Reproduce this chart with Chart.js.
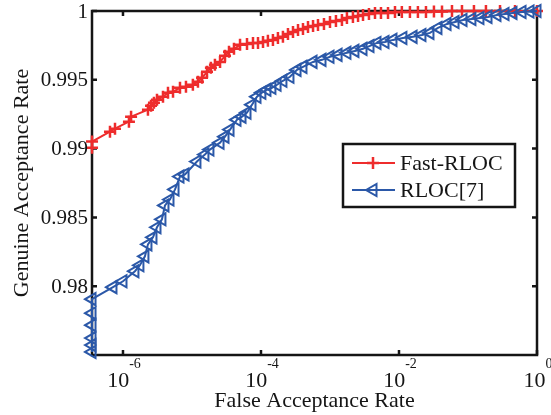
<!DOCTYPE html>
<html>
<head>
    <title>Fast-RLOC vs RLOC ROC</title>
    <script src="https://cdn.jsdelivr.net/npm/chart.js@4.4.1/dist/chart.umd.min.js"></script>
    <style>
        body {
            margin: 0;
            background-color: white;
        }
        canvas {
            display: block;
        }
    </style>
</head>
<body>
    <canvas id="rocChart" width="551" height="415"></canvas>

    <script>
        // values
        const seriesNames = ['Fast-RLOC', 'RLOC[7]'];

        const redFar = [3.56e-7, 3.56e-7, 6.48e-7, 7.66e-7, 1.22e-6, 1.31e-6, 2.30e-6, 2.55e-6, 2.81e-6, 3.11e-6,
            3.80e-6, 4.49e-6, 5.31e-6, 6.70e-6, 8.18e-6, 1.03e-5, 1.22e-5, 1.40e-5, 1.65e-5, 1.88e-5,
            2.15e-5, 2.55e-5, 3.01e-5, 3.44e-5, 4.06e-5, 4.97e-5, 6.27e-5, 7.66e-5, 9.05e-5, 1.07e-4,
            1.26e-4, 1.49e-4, 1.76e-4, 2.08e-4, 2.46e-4, 2.91e-4, 3.44e-4, 4.06e-4, 4.80e-4, 5.68e-4,
            6.70e-4, 8.18e-4, 1.0e-3, 1.22e-3, 1.49e-3, 1.76e-3, 2.15e-3, 2.55e-3, 3.01e-3, 3.67e-3,
            4.49e-3, 5.48e-3, 6.93e-3, 8.75e-3, 1.10e-2, 1.44e-2, 1.88e-2, 2.46e-2, 3.21e-2, 4.20e-2,
            5.86e-2, 8.18e-2, 0.122, 0.182, 0.291, 0.480, 1];
        const redGar = [0.99007, 0.99051, 0.99123, 0.99145, 0.99196, 0.99232, 0.99283, 0.99312, 0.99333, 0.99355,
            0.99377, 0.99406, 0.99413, 0.99442, 0.99449, 0.99464, 0.99486, 0.99514, 0.99558, 0.99587,
            0.99609, 0.99630, 0.99674, 0.99703, 0.99725, 0.99754, 0.99761, 0.99768, 0.99768, 0.99775,
            0.99783, 0.99790, 0.99804, 0.99812, 0.99833, 0.99848, 0.99862, 0.99870, 0.99884, 0.99891,
            0.99899, 0.99906, 0.99920, 0.99928, 0.99935, 0.99949, 0.99957, 0.99964, 0.99971, 0.99978,
            0.99986, 0.99986, 0.99986, 0.99993, 0.99993, 0.99993, 0.99993, 0.99993, 0.99996, 0.99996,
            1, 1, 1, 1, 1, 1, 1];

        const blueFar = [3.56e-7, 3.56e-7, 3.56e-7, 3.56e-7, 3.56e-7, 3.56e-7, 7.16e-7, 1.0e-6, 1.49e-6, 1.76e-6,
            2.08e-6, 2.30e-6, 2.72e-6, 3.11e-6, 3.67e-6, 4.06e-6, 4.80e-6, 5.68e-6, 6.70e-6, 7.93e-6,
            1.18e-5, 1.54e-5, 1.82e-5, 2.55e-5, 3.01e-5, 3.56e-5, 4.49e-5, 5.31e-5, 6.27e-5, 7.41e-5,
            8.75e-5, 1.03e-4, 1.22e-4, 1.44e-4, 1.71e-4, 2.08e-4, 2.63e-4, 3.33e-4, 4.06e-4, 5.68e-4,
            7.66e-4, 1.0e-3, 1.31e-3, 1.76e-3, 2.30e-3, 3.01e-3, 3.80e-3, 4.80e-3, 6.27e-3, 8.18e-3,
            1.14e-2, 1.60e-2, 2.15e-2, 2.81e-2, 3.67e-2, 4.97e-2, 6.49e-2, 8.47e-2, 0.114, 0.149,
            0.195, 0.263, 0.344, 0.449, 0.607, 0.792, 1];
        const blueGar = [0.97522, 0.97572, 0.97623, 0.97717, 0.97804, 0.97906, 0.97993, 0.98036, 0.98109, 0.98152,
            0.98217, 0.98304, 0.98355, 0.98428, 0.98486, 0.98587, 0.98630, 0.98703, 0.98797, 0.98812,
            0.98906, 0.98957, 0.98993, 0.99043, 0.99087, 0.99138, 0.99210, 0.99232, 0.99261, 0.99319,
            0.99377, 0.99406, 0.99428, 0.99442, 0.99464, 0.99493, 0.99522, 0.99572, 0.99594, 0.99630,
            0.99645, 0.99667, 0.99681, 0.99696, 0.99710, 0.99725, 0.99746, 0.99768, 0.99775, 0.99790,
            0.99804, 0.99812, 0.99826, 0.99841, 0.99877, 0.99906, 0.99920, 0.99935, 0.99942, 0.99949,
            0.99957, 0.99971, 0.99978, 0.99986, 0.99993, 0.99996, 1];

        const xTickVals = [1e-6, 1e-4, 1e-2, 1];
        const xTickExps = ['-6', '-4', '-2', '0'];
        const yTickVals = [0.98, 0.985, 0.99, 0.995, 1];
        const yTickText = ['0.98', '0.985', '0.99', '0.995', '1'];

        const RED = '#ee2c2c';
        const BLUE = '#2b58a8';
        const INK = '#151515';
        const FONT = '"Liberation Serif", "Times New Roman", serif';

        function toPoints(xs, ys) {
            return xs.map((x, i) => ({ x: x, y: ys[i] }));
        }

        const styles = [
            { color: RED, pointStyle: 'cross', rotation: 0, radius: 6, borderWidth: 2.5 },
            { color: BLUE, pointStyle: 'triangle', rotation: -90, radius: 7, borderWidth: 2 }
        ];

        // MATLAB-like box, inward ticks, labels and legend
        const matlabAxes = {
            id: 'matlabAxes',
            beforeDatasetsDraw(chart) {
                const ctx = chart.ctx;
                const a = chart.chartArea;
                const xs = chart.scales.x, ys = chart.scales.y;
                ctx.save();
                ctx.strokeStyle = INK;
                ctx.lineWidth = 2.5;
                ctx.strokeRect(a.left, a.top, a.right - a.left, a.bottom - a.top);
                ctx.beginPath();
                xTickVals.forEach(v => {
                    const px = xs.getPixelForValue(v);
                    ctx.moveTo(px, a.bottom); ctx.lineTo(px, a.bottom - 5);
                    ctx.moveTo(px, a.top); ctx.lineTo(px, a.top + 5);
                });
                yTickVals.forEach(v => {
                    const py = ys.getPixelForValue(v);
                    ctx.moveTo(a.left, py); ctx.lineTo(a.left + 5, py);
                    ctx.moveTo(a.right, py); ctx.lineTo(a.right - 5, py);
                });
                ctx.stroke();
                ctx.restore();
            },
            afterDraw(chart) {
                const ctx = chart.ctx;
                const a = chart.chartArea;
                const xs = chart.scales.x, ys = chart.scales.y;
                ctx.save();
                ctx.fillStyle = INK;

                // y tick labels
                ctx.font = '21px ' + FONT;
                ctx.textAlign = 'right';
                ctx.textBaseline = 'middle';
                yTickVals.forEach((v, i) => {
                    ctx.fillText(yTickText[i], a.left - 4, ys.getPixelForValue(v) + 1);
                });

                // x tick labels: 10 with superscript exponent
                ctx.textAlign = 'left';
                ctx.textBaseline = 'alphabetic';
                xTickVals.forEach((v, i) => {
                    const px = xs.getPixelForValue(v);
                    ctx.font = '22px ' + FONT;
                    const wBase = ctx.measureText('10').width;
                    ctx.font = '14px ' + FONT;
                    const wExp = ctx.measureText(xTickExps[i]).width;
                    const left = px - (wBase + wExp) / 2 + 1;
                    ctx.font = '22px ' + FONT;
                    ctx.fillText('10', left, a.bottom + 32);
                    ctx.font = '14px ' + FONT;
                    ctx.fillText(xTickExps[i], left + wBase, a.bottom + 13);
                });

                // axis titles
                ctx.font = '22px ' + FONT;
                ctx.textAlign = 'center';
                ctx.fillText('False Acceptance Rate', (a.left + a.right) / 2, a.bottom + 52);
                ctx.save();
                ctx.translate(28, (a.top + a.bottom) / 2);
                ctx.rotate(-Math.PI / 2);
                ctx.fillText('Genuine Acceptance Rate', 0, 0);
                ctx.restore();

                // legend
                const lx = a.left + 251, ly = a.top + 133, lw = 172, lh = 63;
                ctx.fillStyle = 'white';
                ctx.fillRect(lx, ly, lw, lh);
                ctx.strokeStyle = INK;
                ctx.lineWidth = 2.5;
                ctx.strokeRect(lx, ly, lw, lh);
                ctx.font = '22px ' + FONT;
                ctx.textAlign = 'left';
                ctx.textBaseline = 'middle';
                seriesNames.forEach((name, i) => {
                    const st = styles[i];
                    const cy = ly + 19 + i * 27;
                    ctx.strokeStyle = st.color;
                    ctx.lineWidth = 2;
                    ctx.beginPath();
                    ctx.moveTo(lx + 9, cy);
                    ctx.lineTo(lx + 52, cy);
                    ctx.stroke();
                    ctx.fillStyle = 'rgba(0,0,0,0)';
                    ctx.lineWidth = st.borderWidth;
                    Chart.helpers.drawPoint(ctx, {
                        pointStyle: st.pointStyle,
                        rotation: st.rotation,
                        radius: st.radius,
                        borderWidth: st.borderWidth
                    }, lx + 30, cy);
                    ctx.fillStyle = INK;
                    ctx.fillText(name, lx + 57, cy + 1);
                });
                ctx.restore();
            }
        };

        const datasets = [toPoints(redFar, redGar), toPoints(blueFar, blueGar)].map((pts, i) => ({
            label: seriesNames[i],
            data: pts,
            showLine: true,
            borderColor: styles[i].color,
            borderWidth: 2,
            pointStyle: styles[i].pointStyle,
            pointRotation: styles[i].rotation,
            pointRadius: styles[i].radius,
            pointBorderWidth: styles[i].borderWidth,
            pointBorderColor: styles[i].color,
            pointBackgroundColor: 'rgba(0,0,0,0)',
            tension: 0,
            clip: false,
            order: 2 - i
        }));

        new Chart(document.getElementById('rocChart'), {
            type: 'scatter',
            data: { datasets: datasets },
            options: {
                responsive: false,
                animation: false,
                devicePixelRatio: 1,
                layout: { padding: { top: 11, right: 14, left: 0, bottom: 0 } },
                plugins: {
                    legend: { display: false },
                    tooltip: { enabled: false }
                },
                scales: {
                    x: {
                        type: 'logarithmic',
                        min: 3.556e-7,
                        max: 1,
                        ticks: { display: false },
                        grid: { display: false },
                        border: { display: false },
                        afterFit: scale => { scale.height = 60; }
                    },
                    y: {
                        min: 0.975,
                        max: 1,
                        ticks: { display: false },
                        grid: { display: false },
                        border: { display: false },
                        afterFit: scale => { scale.width = 92; }
                    }
                }
            },
            plugins: [matlabAxes]
        });
    </script>
</body>
</html>
